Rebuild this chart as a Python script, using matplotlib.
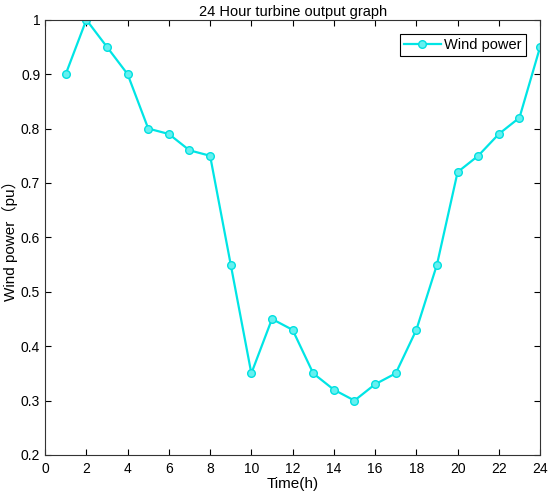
import matplotlib
matplotlib.use('Agg')
import matplotlib.pyplot as plt

plt.rcParams['font.family'] = ['Liberation Sans', 'Noto Sans CJK SC', 'DejaVu Sans']

hours = list(range(1, 25))
wind = [0.90, 1.00, 0.95, 0.90, 0.80, 0.79, 0.76, 0.75, 0.55, 0.35, 0.45, 0.43,
        0.35, 0.32, 0.30, 0.33, 0.35, 0.43, 0.55, 0.72, 0.75, 0.79, 0.82, 0.95]
xticks = list(range(0, 25, 2))
yticks = [0.2, 0.3, 0.4, 0.5, 0.6, 0.7, 0.8, 0.9, 1.0]
ytick_labels = ['0.2', '0.3', '0.4', '0.5', '0.6', '0.7', '0.8', '0.9', '1']

fig = plt.figure(figsize=(5.5, 4.94), dpi=100)
ax = fig.add_axes([0.082, 0.079, 0.9, 0.881])

ax.plot(hours, wind, color='#00e5e5', linewidth=1.6, marker='o', markersize=5.5,
        markerfacecolor='#66f0f0', markeredgecolor='#00e0e0', label='Wind power')

ax.set_xlim(0, 24)
ax.set_ylim(0.2, 1.0)
ax.set_xticks(xticks)
ax.set_yticks(yticks)
ax.set_yticklabels(ytick_labels)
ax.tick_params(direction='in', top=True, right=True, labelsize=10, length=4, width=0.8)
ax.tick_params(axis='x', pad=5)
for s in ax.spines.values():
    s.set_linewidth(0.8)
    s.set_color('#333333')

ax.set_xlabel('Time(h)', fontsize=11, labelpad=1)
ax.set_ylabel('Wind power（pu）', fontsize=11, labelpad=2)
ax.set_title('24 Hour turbine output graph', fontsize=10.5, pad=3)

leg = ax.legend(loc='upper right', fontsize=10.5, fancybox=False, framealpha=1,
                edgecolor='black', borderaxespad=1.0, handlelength=2.6,
                borderpad=0.25, handletextpad=0.2)
leg.get_frame().set_linewidth(0.8)

fig.savefig('out.png', dpi=100)
